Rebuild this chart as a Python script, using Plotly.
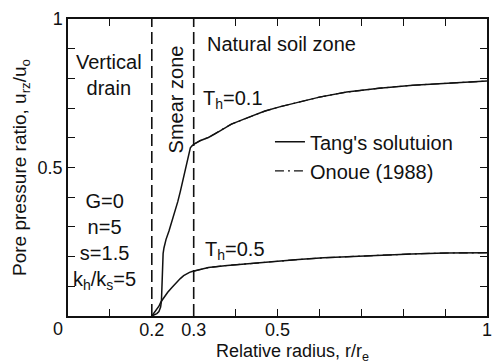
import plotly.graph_objects as go

# ---- data ----
r_th01 = [0.200, 0.205, 0.212, 0.217, 0.221, 0.223, 0.224, 0.225, 0.227, 0.229, 0.234, 0.241, 0.248,
          0.256, 0.262, 0.268, 0.274, 0.280, 0.285, 0.288, 0.292, 0.296, 0.300,
          0.315, 0.335, 0.351, 0.370, 0.390, 0.429, 0.470, 0.507, 0.547, 0.600, 0.665, 0.743,
          0.823, 0.901, 0.950, 1.000]
u_th01 = [0.000, 0.003, 0.008, 0.015, 0.030, 0.050, 0.090, 0.176, 0.210, 0.229, 0.258, 0.286, 0.318,
          0.352, 0.385, 0.419, 0.458, 0.495, 0.530, 0.551, 0.566, 0.573, 0.578,
          0.590, 0.601, 0.613, 0.630, 0.646, 0.668, 0.690, 0.705, 0.718, 0.737, 0.754, 0.767,
          0.777, 0.784, 0.788, 0.791]

r_th05 = [0.200, 0.204, 0.208, 0.213, 0.217, 0.222, 0.229, 0.238, 0.248, 0.258, 0.268, 0.276, 0.284,
          0.290, 0.296, 0.302, 0.310, 0.335, 0.380, 0.429, 0.490, 0.550, 0.610, 0.700, 0.820,
          0.900, 1.000]
u_th05 = [0.000, 0.008, 0.016, 0.025, 0.033, 0.048, 0.063, 0.080, 0.096, 0.112, 0.126, 0.136, 0.143,
          0.147, 0.150, 0.152, 0.155, 0.163, 0.170, 0.176, 0.184, 0.190, 0.196, 0.202, 0.209,
          0.212, 0.213]

# Onoue (1988) closed-form coincides with Tang's solution in the natural soil zone
r_onoue01 = [0.300, 0.315, 0.335, 0.351, 0.370, 0.390, 0.429, 0.470, 0.507, 0.547, 0.600, 0.665,
             0.743, 0.823, 0.901, 0.950, 1.000]
u_onoue01 = [0.578, 0.590, 0.601, 0.613, 0.630, 0.646, 0.668, 0.690, 0.705, 0.718, 0.737, 0.754,
             0.767, 0.777, 0.784, 0.788, 0.791]
r_onoue05 = [0.300, 0.310, 0.335, 0.380, 0.429, 0.490, 0.550, 0.610, 0.700, 0.820, 0.900, 1.000]
u_onoue05 = [0.151, 0.155, 0.163, 0.170, 0.176, 0.184, 0.190, 0.196, 0.202, 0.209, 0.212, 0.213]

zone_bounds = [0.2, 0.3]           # drain radius and smear-zone radius (r/re)
x_tickvals = [0.2, 0.3, 0.5, 1]
x_ticktext = ["0.2", "0.3", "0.5", "1"]
y_tickvals = [0.5, 1]
y_ticktext = ["0.5", "1"]

FONT = "Liberation Sans, Arial, sans-serif"
BLACK = "#111111"

fig = go.Figure()

# zone boundaries (dashed verticals)
for xb in zone_bounds:
    fig.add_trace(go.Scatter(x=[xb, xb], y=[0, 1], mode="lines",
                             line=dict(color=BLACK, width=1.6, dash="12px,5px"),
                             showlegend=False, hoverinfo="skip"))

fig.add_trace(go.Scatter(x=r_th01, y=u_th01, mode="lines", name="Tang's solutuion",
                         line=dict(color=BLACK, width=1.5), legendgroup="tang"))
fig.add_trace(go.Scatter(x=r_th05, y=u_th05, mode="lines", name="Tang's solutuion",
                         line=dict(color=BLACK, width=1.5), legendgroup="tang", showlegend=False))
fig.add_trace(go.Scatter(x=r_onoue01, y=u_onoue01, mode="lines", name="Onoue (1988)",
                         line=dict(color=BLACK, width=1.2, dash="9px,4px,2px,4px"),
                         legendgroup="onoue"))
fig.add_trace(go.Scatter(x=r_onoue05, y=u_onoue05, mode="lines", name="Onoue (1988)",
                         line=dict(color=BLACK, width=1.2, dash="9px,4px,2px,4px"),
                         legendgroup="onoue", showlegend=False))

axis_common = dict(showline=True, linecolor=BLACK, linewidth=1.5, mirror="ticks",
                   ticks="inside", ticklen=7, tickwidth=1.2, tickcolor=BLACK,
                   showgrid=False, zeroline=False,
                   minor=dict(ticks="inside", ticklen=7, tickwidth=1.2, tickcolor=BLACK,
                              tick0=0, dtick=0.1, showgrid=False),
                   tickfont=dict(family=FONT, size=18, color=BLACK))

fig.update_xaxes(range=[0, 1], tickmode="array", tickvals=x_tickvals, ticktext=x_ticktext,
                 ticklabelstandoff=-3, **axis_common)
fig.update_yaxes(range=[0, 1], tickmode="array", tickvals=y_tickvals, ticktext=y_ticktext,
                 title=dict(text="Pore pressure ratio, u<sub>rz</sub>/u<sub>o</sub>",
                            font=dict(family=FONT, size=19, color=BLACK), standoff=6),
                 **axis_common)

ann_font = dict(family=FONT, size=20, color=BLACK)
annotations = [
    dict(x=0, y=0, xref="x", yref="y", text="0", showarrow=False, xshift=-10, yshift=-13,
         font=dict(family=FONT, size=18, color=BLACK)),
    dict(x=0.535, y=-0.123, xref="paper", yref="paper", text="Relative radius, r/r<sub>e</sub>",
         showarrow=False, yanchor="middle", font=dict(family=FONT, size=18, color=BLACK)),
    dict(x=0.099, y=0.81, xref="x", yref="y", text="Vertical<br>drain", showarrow=False,
         font=ann_font),
    dict(x=0.257, y=0.728, xref="x", yref="y", text="Smear zone", textangle=-90,
         showarrow=False, font=ann_font),
    dict(x=0.328, y=0.917, xref="x", yref="y", text="Natural soil zone", xanchor="left",
         showarrow=False, font=ann_font),
    dict(x=0.318, y=0.728, xref="x", yref="y", text="T<sub>h</sub>=0.1", xanchor="left",
         showarrow=False, font=ann_font),
    dict(x=0.323, y=0.219, xref="x", yref="y", text="T<sub>h</sub>=0.5", xanchor="left",
         showarrow=False, font=ann_font),
    dict(x=0.088, y=0.25, xref="x", yref="y", xanchor="center", yanchor="middle", align="center",
         text="G=0<br>n=5<br>s=1.5<br>k<sub>h</sub>/k<sub>s</sub>=5",
         showarrow=False, font=ann_font),
]

fig.update_layout(
    width=501, height=363,
    margin=dict(l=68, r=9, t=15, b=47),
    paper_bgcolor="white", plot_bgcolor="white",
    font=dict(family=FONT, size=20, color=BLACK),
    showlegend=True,
    legend=dict(x=0.482, y=0.652, xanchor="left", yanchor="top",
                bgcolor="rgba(0,0,0,0)", font=dict(family=FONT, size=20, color=BLACK),
                itemwidth=30, tracegroupgap=0),
    annotations=annotations,
)

fig.write_html("out.html")
